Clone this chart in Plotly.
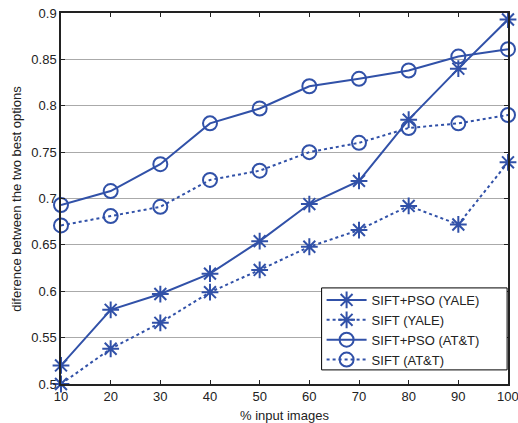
import plotly.graph_objects as go

x_vals = [10, 20, 30, 40, 50, 60, 70, 80, 90, 100]
x_ticktext = ["10", "20", "30", "40", "50", "60", "70", "80", "90", "100"]
sift_pso_yale = [0.520, 0.580, 0.597, 0.619, 0.654, 0.694, 0.719, 0.785, 0.840, 0.893]
sift_yale = [0.500, 0.538, 0.566, 0.599, 0.623, 0.648, 0.666, 0.692, 0.672, 0.739]
sift_pso_att = [0.693, 0.708, 0.737, 0.781, 0.797, 0.821, 0.829, 0.838, 0.853, 0.861]
sift_att = [0.671, 0.681, 0.691, 0.720, 0.730, 0.750, 0.760, 0.776, 0.781, 0.790]

names = ["SIFT+PSO (YALE)", "SIFT (YALE)", "SIFT+PSO (AT&T)", "SIFT (AT&T)"]
series = [sift_pso_yale, sift_yale, sift_pso_att, sift_att]
dashes = ["solid", "dot", "solid", "dot"]
symbols = ["asterisk-open", "asterisk-open", "circle-open", "circle-open"]
sizes = [14, 14, 14, 14]

color = "#3151A8"

fig = go.Figure()
for nm, ys, d, s, sz in zip(names, series, dashes, symbols, sizes):
    fig.add_trace(go.Scatter(
        x=x_vals, y=ys, name=nm, mode="lines+markers",
        line=dict(color=color, width=2, dash=d),
        marker=dict(symbol=s, size=sz, color=color, line=dict(color=color, width=2)),
        cliponaxis=False,
    ))

axis_font = dict(family="Liberation Sans, Arial, sans-serif", size=13, color="#222222")

# The last tick label runs past the page edge in the reference; Plotly would hide it,
# so it is drawn as an annotation at its tick value instead.
shown_ticktext = x_ticktext[:-1] + [""]

fig.update_layout(
    width=518, height=423,
    margin=dict(l=61, r=10, t=13, b=39, autoexpand=False),
    paper_bgcolor="white", plot_bgcolor="white",
    font=axis_font,
    showlegend=True,
    legend=dict(
        x=0.583, y=0.267, xanchor="left", yanchor="top",
        bgcolor="rgba(0,0,0,0)", borderwidth=0,
        font=dict(family="Liberation Sans, Arial, sans-serif", size=13, color="#222222"),
        tracegroupgap=0, itemwidth=40,
    ),
    shapes=[dict(
        type="rect", xref="paper", yref="paper",
        x0=0.583, x1=0.998, y0=0.038, y1=0.259,
        fillcolor="white", line=dict(color="black", width=1), layer="above",
    )],
    xaxis=dict(
        range=[10, 100], tickvals=x_vals, ticktext=shown_ticktext,
        showgrid=False, zeroline=False, automargin=False,
        showline=True, linecolor="#222222", linewidth=1.5, mirror="ticks",
        ticks="inside", ticklen=4, tickcolor="#222222",
    ),
    yaxis=dict(
        range=[0.5, 0.9], tickvals=[0.5, 0.55, 0.6, 0.65, 0.7, 0.75, 0.8, 0.85, 0.9],
        ticktext=["0.5", "0.55", "0.6", "0.65", "0.7", "0.75", "0.8", "0.85", "0.9"],
        showgrid=True, gridcolor="#AAAAAA", gridwidth=1, zeroline=False, automargin=False,
        showline=True, linecolor="#222222", linewidth=1.5, mirror="ticks",
        ticks="inside", ticklen=4, tickcolor="#222222",
    ),
    annotations=[
        dict(text=x_ticktext[-1], xref="x", yref="paper", x=x_vals[-1], y=-0.035,
             xanchor="center", yanchor="middle", showarrow=False, font=axis_font),
        dict(text="% input images", xref="paper", yref="paper", x=0.5, y=-0.058,
             xanchor="center", yanchor="top", showarrow=False, font=axis_font),
        dict(text="diference between the two best options", xref="paper", yref="paper",
             x=-0.1, y=0.5, textangle=-90, xanchor="center", yanchor="middle",
             showarrow=False, font=axis_font),
    ],
)

fig.write_html(
    "out.html",
    config={"displayModeBar": False},
    post_script="document.body.style.margin='0';document.body.style.overflow='hidden';",
)
